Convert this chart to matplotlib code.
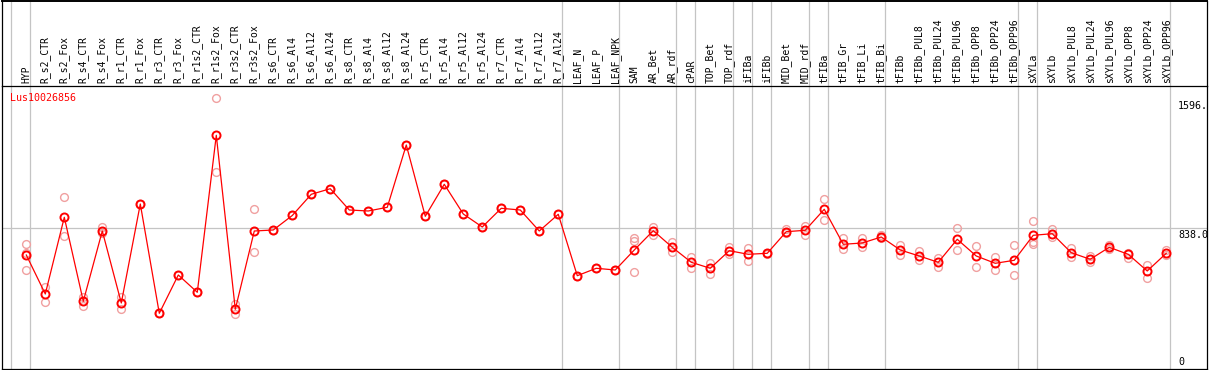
import matplotlib
matplotlib.use("Agg")
import matplotlib.pyplot as plt
from matplotlib.lines import Line2D

categories = ["HYP", "R_s2_CTR", "R_s2_Fox", "R_s4_CTR", "R_s4_Fox", "R_r1_CTR", "R_r1_Fox",
              "R_r3_CTR", "R_r3_Fox", "R_r1s2_CTR", "R_r1s2_Fox", "R_r3s2_CTR", "R_r3s2_Fox",
              "R_s6_CTR", "R_s6_Al4", "R_s6_Al12", "R_s6_Al24", "R_s8_CTR", "R_s8_Al4",
              "R_s8_Al12", "R_s8_Al24", "R_r5_CTR", "R_r5_Al4", "R_r5_Al12", "R_r5_Al24",
              "R_r7_CTR", "R_r7_Al4", "R_r7_Al12", "R_r7_Al24", "LEAF_N", "LEAF_P", "LEAF_NPK",
              "SAM", "AR_Bet", "AR_rdf", "cPAR", "TOP_Bet", "TOP_rdf", "iFIBa", "iFIBb",
              "MID_Bet", "MID_rdf", "tFIBa", "tFIB_Gr", "tFIB_Li", "tFIB_Bi", "tFIBb",
              "tFIBb_PUL8", "tFIBb_PUL24", "tFIBb_PUL96", "tFIBb_OPP8", "tFIBb_OPP24",
              "tFIBb_OPP96", "sXYLa", "sXYLb", "sXYLb_PUL8", "sXYLb_PUL24", "sXYLb_PUL96",
              "sXYLb_OPP8", "sXYLb_OPP24", "sXYLb_OPP96"]

means = [678.6, 445.9, 903.7, 402.3, 821.9, 392.1, 983.0, 330.7, 559.3, 456.0, 1393.1,
         354.5, 821.9, 827.9, 914.4, 1041.0, 1074.4, 947.2, 941.3, 963.4, 1335.2, 909.6,
         1100.6, 923.4, 845.8, 957.4, 947.2, 821.9, 921.6, 555.1, 599.3, 589.1, 708.5,
         823.7, 724.6, 635.1, 599.3, 704.3, 682.8, 688.8, 817.7, 826.1, 951.4, 742.5,
         750.3, 786.1, 708.5, 672.7, 635.1, 772.4, 672.7, 629.1, 647.0, 796.2, 805.8,
         692.4, 653.0, 724.6, 682.8, 583.1, 688.8]

replicates = [[744.3, 690.6, 587.3], [489.4, 399.9], [1023.0, 790.3], [426.2, 374.2],
              [847.6, 808.2], [426.2, 358.1], [983.0, 983.0], [330.7, 330.7], [559.3, 559.3],
              [456.0, 456.0], [1613.9, 1172.3], [384.4, 326.5], [951.4, 694.8],
              [827.9, 827.9], [914.4, 914.4], [1041.0, 1041.0], [1074.4, 1074.4],
              [947.2, 947.2], [941.3, 941.3], [963.4, 963.4], [1335.2, 1335.2],
              [909.6, 909.6], [1100.6, 1100.6], [923.4, 923.4], [845.8, 845.8],
              [957.4, 957.4], [947.2, 947.2], [821.9, 821.9], [921.6, 921.6],
              [555.1, 555.1], [599.3, 599.3], [589.1, 589.1], [778.3, 764.0, 575.4],
              [847.6, 799.8], [754.4, 698.3], [668.5, 602.8], [629.1, 565.2], [728.2, 682.8],
              [720.4, 641.0], [690.6, 682.8], [833.8, 808.2], [851.7, 798.0], [1011.1, 887.5],
              [778.3, 712.7], [778.3, 728.2], [798.0, 778.3], [738.3, 678.6], [704.3, 648.8],
              [662.5, 608.8], [838.0, 706.7], [732.4, 605.2], [664.9, 590.9], [740.1, 557.5],
              [879.8, 758.0, 744.3], [835.6, 784.3], [718.6, 668.5], [672.7, 638.6],
              [740.1, 714.5], [692.4, 660.7], [620.7, 543.2], [706.7, 678.6]]

group_ends = [-1, 0, 28, 31, 34, 35, 37, 38, 39, 41, 42, 45, 52, 53, 60]
gene = "Lus10026856"
max_label = "1596."
mid_value = 838.0
mid_label = "838.0"

W, H = 1209, 370
fig = plt.figure(figsize=(W / 100, H / 100), dpi=100)
fig.patch.set_facecolor("white")

ax_left, ax_right = 1.7, 1206.7
ax_top, ax_bot = 85.7, 368.7
ax = fig.add_axes([ax_left / W, (H - ax_bot) / H, (ax_right - ax_left) / W, (ax_bot - ax_top) / H])
ax.set_xlim(-1.295, 62.13)
ax.set_ylim(0, 1689.1)
for s in ax.spines.values():
    s.set_color("black")
    s.set_linewidth(0.9)

mono = "DejaVu Sans Mono"
grey = "#c4c4c4"

# horizontal reference line
ax.axhline(mid_value, color=grey, lw=0.9, zorder=1)

# group separator lines extending into the header
ext = 1 + ax_top / (ax_bot - ax_top)
for g in group_ends:
    ax.axvline(g + 0.21, ymin=0, ymax=ext, color=grey, lw=0.9, clip_on=False, zorder=1)

# figure frame over the header
fig.add_artist(Line2D([ax_left / W, ax_left / W], [(H - ax_top) / H, 1 - 0.5 / H], color="black", lw=0.9))
fig.add_artist(Line2D([ax_right / W, ax_right / W], [(H - ax_top) / H, 1 - 0.5 / H], color="black", lw=0.9))
fig.add_artist(Line2D([ax_left / W, ax_right / W], [1 - 0.7 / H, 1 - 0.7 / H], color="black", lw=1.4))

xs = list(range(len(categories)))
# replicates
for i, reps in enumerate(replicates):
    ax.plot([i] * len(reps), reps, linestyle="none", marker="o", markersize=5.6,
            markerfacecolor="none", markeredgecolor="#f0a0a0", markeredgewidth=1.0, zorder=2)
# mean line
ax.plot(xs, means, color="#ff0000", lw=0.9, marker="o", markersize=5.8,
        markerfacecolor="none", markeredgecolor="#ff0000", markeredgewidth=1.4, zorder=3)

# category labels on top
ax.xaxis.tick_top()
ax.set_xticks(xs)
ax.set_xticklabels(categories, rotation=90, fontsize=7.0, family=mono, ha="center", va="bottom")
ax.tick_params(axis="x", length=0, pad=2.0)
ax.set_yticks([])

# gene label
ax.text(-1.295 + 8.3 / 19, 1689.1 - 12.0 / 0.16754, gene, color="#ff0000", fontsize=7.2,
        family=mono, ha="left", va="center")

# right value labels
xlab = 60.62
ax.text(xlab, 1596, max_label, fontsize=7.2, family=mono, ha="left", va="top")
ax.text(xlab, mid_value - 2.0 / 0.16754, mid_label, fontsize=7.2, family=mono, ha="left", va="top")
ax.text(xlab, 2.0 / 0.16754, "0", fontsize=7.2, family=mono, ha="left", va="bottom")

fig.savefig("out.png", dpi=100)
